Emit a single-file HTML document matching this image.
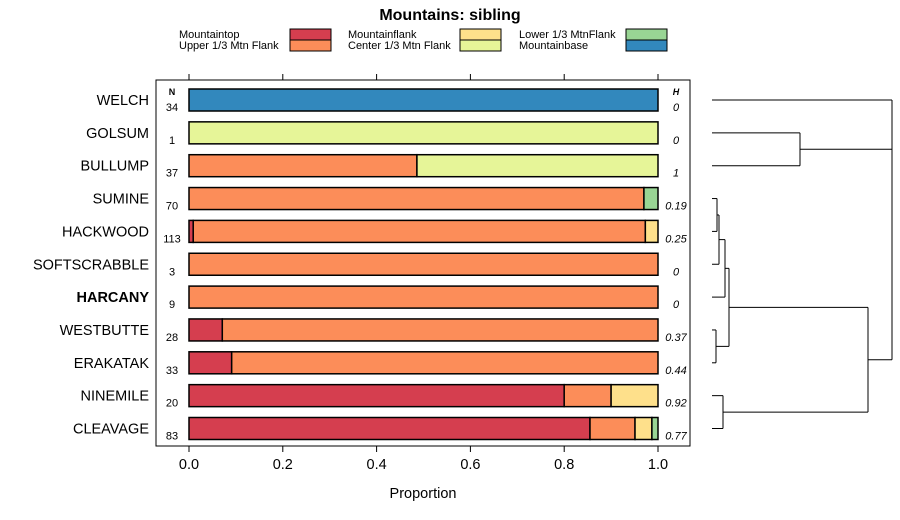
<!DOCTYPE html>
<html><head><meta charset="utf-8"><style>body{margin:0;background:#fff}svg{display:block;font-family:"Liberation Sans",sans-serif}</style></head>
<body>
<svg id="c" width="900" height="520" xmlns="http://www.w3.org/2000/svg"></svg>
<script>
const categories=["WELCH","GOLSUM","BULLUMP","SUMINE","HACKWOOD","SOFTSCRABBLE","HARCANY","WESTBUTTE","ERAKATAK","NINEMILE","CLEAVAGE"];
const seriesNames=["Mountaintop","Upper 1/3 Mtn Flank","Mountainflank","Center 1/3 Mtn Flank","Lower 1/3 MtnFlank","Mountainbase"];
const colors=["#d53e4f","#fc8d59","#fee08b","#e6f598","#99d594","#3288bd"];
const mountaintop=[0,0,0,0,0.009,0,0,0.071,0.091,0.8,0.855];
const upper=[0,0,0.486,0.97,0.964,1,1,0.929,0.909,0.1,0.096];
const flank=[0,0,0,0,0.027,0,0,0,0,0.1,0.036];
const center=[0,1,0.514,0,0,0,0,0,0,0,0];
const lower=[0,0,0,0.03,0,0,0,0,0,0,0.013];
const base=[1,0,0,0,0,0,0,0,0,0,0];
const nValues=["34","1","37","70","113","3","9","28","33","20","83"];
const hValues=["0","0","1","0.19","0.25","0","0","0.37","0.44","0.92","0.77"];
const xTicks=[0,0.2,0.4,0.6,0.8,1.0];
const xTickLabels=["0.0","0.2","0.4","0.6","0.8","1.0"];
const svg=document.getElementById('c');
const NS="http://www.w3.org/2000/svg";
function mk(t,a,txt){const e=document.createElementNS(NS,t);for(const k in a)e.setAttribute(k,a[k]);if(txt!==undefined)e.textContent=txt;svg.appendChild(e);return e;}
const x=v=>189+v*469;
const y=i=>100+i*32.85;
let e;
e=mk('text',{x:450,y:20,'text-anchor':'middle','font-size':16,'font-weight':'bold'},'Mountains: sibling');

const legX=[[179,290],[348,460],[519,626]];
seriesNames.forEach((s,k)=>{const col=Math.floor(k/2),row=k%2;const ly=29+row*11;
e=mk('text',{x:legX[col][0],y:ly+9,'font-size':11},s);
e=mk('rect',{x:legX[col][1],y:ly,width:41,height:11,fill:colors[k],stroke:'#000','stroke-width':1});});
e=mk('rect',{x:156,y:80,width:534,height:366,fill:'none',stroke:'#000','stroke-width':1});
xTicks.forEach((t,i)=>{mk('line',{x1:x(t),x2:x(t),y1:446,y2:452,stroke:'#000'});mk('line',{x1:x(t),x2:x(t),y1:80,y2:74,stroke:'#000'});
e=mk('text',{x:x(t),y:469,'text-anchor':'middle','font-size':14.5},xTickLabels[i]);});
e=mk('text',{x:423,y:498,'text-anchor':'middle','font-size':14.5},'Proportion');
e=mk('text',{x:172,y:95,'text-anchor':'middle','font-size':9,'font-weight':'bold'},'N');
e=mk('text',{x:676,y:95,'text-anchor':'middle','font-size':9,'font-weight':'bold','font-style':'italic'},'H');
const series=[mountaintop,upper,flank,center,lower,base];
categories.forEach((c,i)=>{const cy=y(i);
e=mk('text',{x:149,y:cy+5,'text-anchor':'end','font-size':14.5,'font-weight':c==='HARCANY'?'bold':'normal'},c);
e=mk('text',{x:172,y:cy+11,'text-anchor':'middle','font-size':11},nValues[i]);
e=mk('text',{x:676,y:cy+11,'text-anchor':'middle','font-size':11,'font-style':'italic'},hValues[i]);
let acc=0;series.forEach((s,k)=>{const v=s[i];if(v>0){e=mk('rect',{x:x(acc),y:cy-11,width:x(acc+v)-x(acc),height:22,fill:colors[k],stroke:'#000','stroke-width':1.5});acc+=v;}});});
const L=712;
function seg(x1,y1,x2,y2){e=mk('line',{x1,y1,x2,y2,stroke:'#000','stroke-width':1});}
function link(xa,ya,xb,yb,xj){seg(xa,ya,xj,ya);seg(xb,yb,xj,yb);seg(xj,ya,xj,yb);return (ya+yb)/2;}
const gb=link(L,y(1),L,y(2),800);
const sh=link(L,y(3),L,y(4),717);
const shs=link(717,sh,L,y(5),719);
const shsh=link(719,shs,L,y(6),725);
const we=link(L,y(7),L,y(8),716);
const mid=link(725,shsh,716,we,729);
const nc=link(L,y(9),L,y(10),723);
const low=link(729,mid,723,nc,868);
seg(L,y(0),892,y(0));seg(800,gb,892,gb);seg(868,low,892,low);seg(892,y(0),892,low);
</script>
</body></html>
